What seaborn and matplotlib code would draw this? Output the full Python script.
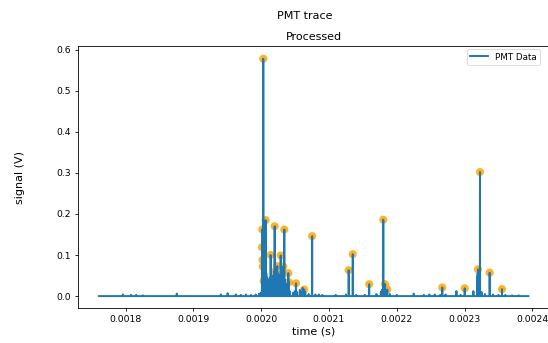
import numpy as np
import pandas as pd
import matplotlib
matplotlib.use("Agg")
import matplotlib.pyplot as plt
import seaborn as sns

# ---- data ----
# detected peaks (orange markers)
peak_t = [0.0020012, 0.0020016, 0.0020020, 0.0020024, 0.0020031, 0.0020036,
          0.0020066, 0.0020140, 0.0020136, 0.0020199, 0.0020190, 0.0020237,
          0.0020288, 0.0020278, 0.0020326, 0.0020341, 0.0020400, 0.0020406,
          0.0020513, 0.0020634, 0.0020752, 0.0021291, 0.0021351, 0.0021593,
          0.0021801, 0.0021826, 0.0021860, 0.0022671, 0.0023002, 0.0023198,
          0.0023227, 0.0023370, 0.0023552]
peak_v = [0.119, 0.162, 0.088, 0.072, 0.578, 0.037,
          0.185, 0.100, 0.033, 0.170, 0.059, 0.073,
          0.099, 0.052, 0.072, 0.162, 0.056, 0.034,
          0.031, 0.016, 0.146, 0.063, 0.102, 0.029,
          0.186, 0.029, 0.016, 0.021, 0.019, 0.065,
          0.302, 0.057, 0.017]

# smaller spikes in the trace (no markers)
minor_t = [0.0017608, 0.0017960, 0.0018080, 0.0018155, 0.0018255, 0.0018755,
           0.0019405, 0.0019505, 0.0019625, 0.0019700, 0.0019775, 0.0019850,
           0.0019920, 0.0019970, 0.0020005, 0.0020040, 0.0020050, 0.0020058,
           0.0020076, 0.0020088, 0.0020098, 0.0020108, 0.0020118, 0.0020128,
           0.0020152, 0.0020162, 0.0020172, 0.0020182, 0.0020210, 0.0020220,
           0.0020230, 0.0020248, 0.0020258, 0.0020268, 0.0020298, 0.0020308,
           0.0020318, 0.0020352, 0.0020365, 0.0020380, 0.0020392, 0.0020420,
           0.0020470, 0.0020495, 0.0020530, 0.0020570, 0.0020590, 0.0020612,
           0.0020650, 0.0020700, 0.0020800, 0.0020850, 0.0020900, 0.0021100,
           0.0021250, 0.0021400, 0.0021530, 0.0021700, 0.0021765, 0.0021780,
           0.0021792, 0.0021900, 0.0022000, 0.0022250, 0.0022400, 0.0022480,
           0.0022560, 0.0022640, 0.0022720, 0.0022880, 0.0022940, 0.0023130,
           0.0023185, 0.0023192, 0.0023212, 0.0023250, 0.0023300, 0.0023420,
           0.0023500, 0.0023600, 0.0023700, 0.0023800, 0.0023940]
minor_v = [0.000, 0.004, 0.003, 0.003, 0.002, 0.006,
           0.004, 0.007, 0.004, 0.003, 0.004, 0.003,
           0.004, 0.006, 0.010, 0.045, 0.050, 0.040,
           0.055, 0.045, 0.030, 0.040, 0.035, 0.045,
           0.050, 0.045, 0.040, 0.050, 0.050, 0.040,
           0.045, 0.055, 0.040, 0.045, 0.040, 0.045,
           0.035, 0.040, 0.030, 0.025, 0.030, 0.012,
           0.008, 0.012, 0.010, 0.015, 0.010, 0.020,
           0.010, 0.005, 0.004, 0.004, 0.003, 0.003,
           0.004, 0.003, 0.003, 0.005, 0.010, 0.015,
           0.012, 0.005, 0.003, 0.006, 0.003, 0.004,
           0.004, 0.003, 0.004, 0.012, 0.003, 0.012,
           0.045, 0.055, 0.040, 0.010, 0.005, 0.004,
           0.003, 0.003, 0.002, 0.002, 0.000]

# ---- build trace: each spike rises from the zero baseline ----
events = sorted(zip(peak_t + minor_t, peak_v + minor_v))
half = 2.0e-7
trace_t, trace_v = [], []
for t, v in events:
    trace_t += [t - half, t, t + half]
    trace_v += [0.0, v, 0.0]
trace = pd.DataFrame({"time": trace_t, "signal": trace_v})
peaks = pd.DataFrame({"time": peak_t, "signal": peak_v})

W, H = 548, 343
fig = plt.figure(figsize=(W / 100, H / 100), dpi=100)
ax = fig.add_axes([77.5 / W, 35 / H, 472.3 / W, 262 / H])

sns.scatterplot(data=peaks, x="time", y="signal", ax=ax, color="orange",
                s=34, alpha=0.85, edgecolor="none", zorder=1, legend=False)
sns.lineplot(data=trace, x="time", y="signal", ax=ax, color="#1f77b4",
             linewidth=1.4, estimator=None, sort=False, label="PMT Data", zorder=2)

ax.set_xlim(0.0017291, 0.0024257)
ax.set_ylim(-0.029, 0.609)
ax.set_xticks([0.0018, 0.0019, 0.0020, 0.0021, 0.0022, 0.0023, 0.0024])
ax.set_xticklabels(["0.0018", "0.0019", "0.0020", "0.0021", "0.0022", "0.0023", "0.0024"])
ax.set_yticks([0.0, 0.1, 0.2, 0.3, 0.4, 0.5, 0.6])
ax.set_yticklabels(["0.0", "0.1", "0.2", "0.3", "0.4", "0.5", "0.6"])
ax.tick_params(labelsize=6.7, length=2.5, width=0.6, pad=2.3)
for sp in ax.spines.values():
    sp.set_linewidth(0.6)

ax.set_xlabel("time (s)", fontsize=8)
ax.set_ylabel("signal (V)", fontsize=8)
ax.xaxis.set_label_coords(0.5, -(327 - 308) / 262)
ax.yaxis.set_label_coords((25 - 77.5) / 472.3, 0.5)
ax.set_title("Processed", fontsize=8, pad=4)
fig.text(305 / W, 1 - 16 / H, "PMT trace", ha="center", va="center", fontsize=8)

leg = ax.legend(loc="upper right", bbox_to_anchor=((540 - 77.5) / 472.3, (308 - 49) / 262),
                borderaxespad=0, fontsize=6.3)
leg.get_frame().set_linewidth(0.6)

fig.savefig("out.png", dpi=100)
